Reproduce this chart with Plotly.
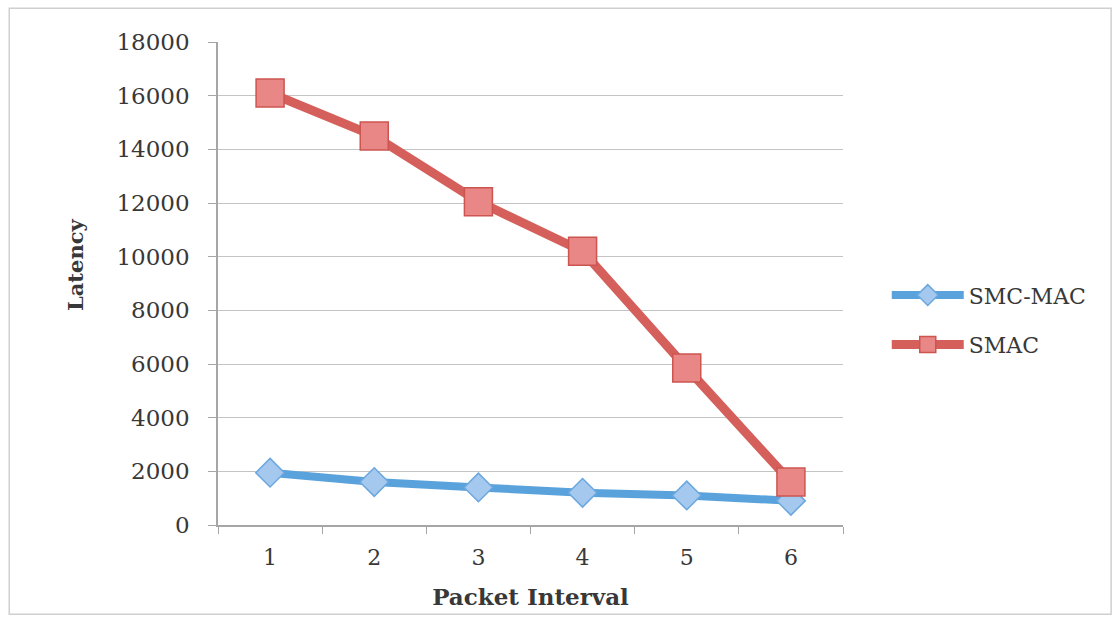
import plotly.graph_objects as go

# Packet interval categories and measured latency for each MAC protocol
packet_interval = ["1", "2", "3", "4", "5", "6"]
smc_mac_latency = [1950, 1600, 1400, 1200, 1100, 900]
smac_latency = [16100, 14500, 12050, 10200, 5850, 1600]
y_ticks = [0, 2000, 4000, 6000, 8000, 10000, 12000, 14000, 16000, 18000]

FONT = "DejaVu Serif"
TEXT = "#383838"

fig = go.Figure()

fig.add_trace(go.Scatter(
    x=packet_interval, y=smc_mac_latency, name="SMC-MAC",
    legendgroup="smc", mode="lines+markers",
    line=dict(color="#5aa2dc", width=8),
    marker=dict(symbol="diamond", size=22, color="#a4c8ee",
                line=dict(color="#6aa7de", width=1.5)),
))

fig.add_trace(go.Scatter(
    x=packet_interval, y=smac_latency, name="SMAC",
    legendgroup="smac", mode="lines+markers",
    line=dict(color="#d5605b", width=9),
    marker=dict(symbol="square", size=28, color="#e98686",
                line=dict(color="#cc5550", width=1.5)),
))

fig.update_layout(
    width=1119, height=620,
    margin=dict(l=218, r=276, t=42, b=95),
    paper_bgcolor="white", plot_bgcolor="white",
    font=dict(family=FONT, size=20, color=TEXT),
    showlegend=True,
    legend=dict(
        x=1.07, y=0.424, xanchor="left", yanchor="middle",
        font=dict(family=FONT, size=22, color=TEXT),
        itemwidth=72, tracegroupgap=18, bgcolor="rgba(0,0,0,0)",
    ),
    shapes=[dict(
        type="rect", xref="paper", yref="paper",
        x0=-0.334, x1=1.429, y0=-0.185, y1=1.07,
        line=dict(color="#cfcfcf", width=1.5),
    )],
    annotations=[dict(
        text="<b>Latency</b>", xref="paper", yref="paper",
        x=-0.229, y=0.538, textangle=-90, showarrow=False,
        xanchor="center", yanchor="middle",
        font=dict(family=FONT, size=21, color=TEXT),
    )],
)

fig.update_xaxes(
    type="category", range=[-0.5, 5.5],
    tickson="boundaries", ticks="outside", ticklen=7,
    tickcolor="#a6a6a6", showline=True, linecolor="#a6a6a6", linewidth=1.5,
    showgrid=False, ticklabelstandoff=12,
    tickfont=dict(family=FONT, size=22, color=TEXT),
    title=dict(text="<b>Packet Interval</b>",
               font=dict(family=FONT, size=23, color=TEXT), standoff=20),
)

fig.update_yaxes(
    range=[0, 18000], tickvals=y_ticks, ticktext=[str(v) for v in y_ticks],
    ticks="outside", ticklen=8, tickcolor="#a6a6a6",
    showline=True, linecolor="#a6a6a6", linewidth=1.5,
    showgrid=True, gridcolor="#c4c4c4", gridwidth=1.2,
    zeroline=False, ticklabelstandoff=14,
    tickfont=dict(family=FONT, size=23, color=TEXT),
)

fig.write_html("out.html")
